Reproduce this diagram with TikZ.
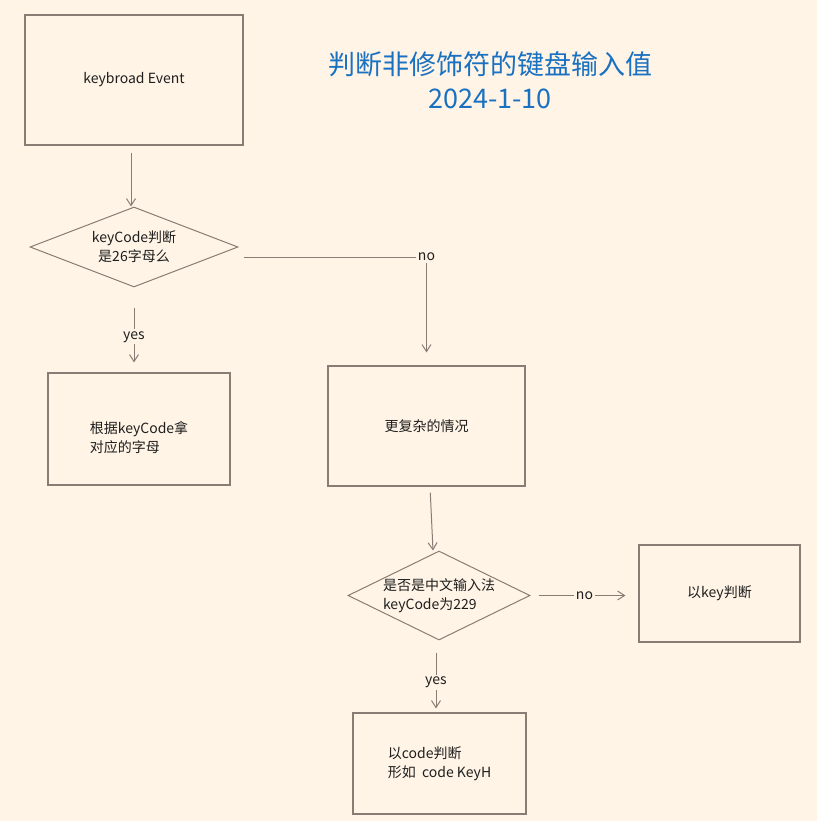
\documentclass[tikz,border=0pt]{standalone}
\usepackage{fontspec}
\setmainfont{Noto Sans CJK SC}
\usetikzlibrary{arrows.meta,shapes.geometric}
\definecolor{bg}{RGB}{255,244,230}
\definecolor{stroke}{RGB}{135,125,116}
\definecolor{ink}{RGB}{30,30,30}
\definecolor{titleblue}{RGB}{25,113,194}
\tikzset{
  x=1pt, y=-1pt,
  every node/.style={font=\fontsize{14}{19}\selectfont, text=ink},
  box/.style={draw=stroke, line width=1.1pt, rectangle, inner sep=0pt, align=left},
  decision/.style={draw=stroke, line width=1pt, diamond, shape aspect=2.6, inner sep=0pt, align=center},
  conn/.style={draw=stroke, line width=1pt, -{Straight Barb[length=7pt,width=9pt]}},
  lbl/.style={fill=bg, inner sep=2pt}
}
\begin{document}
\begin{tikzpicture}
\fill[bg] (0,0) rectangle (817,821);
\useasboundingbox (0,0) rectangle (817,821);

\node[text=titleblue, font=\fontsize{27}{34}\selectfont, align=center] (title) at (490,80) {判断非修饰符的键盘输入值\\2024-1-10};

\node[box, minimum width=218pt, minimum height=130pt] (b1) at (134,80) {keybroad Event};
\node[decision, minimum width=208pt, minimum height=80pt] (d1) at (134,247) {keyCode判断\\是26字母么};
\node[box, minimum width=182pt, minimum height=112pt] (b3) at (139,429) {};
\node[align=left] (b3text) at (139,438) {根据keyCode拿\\对应的字母};
\node[box, minimum width=197pt, minimum height=120pt, align=center] (b2) at (426.5,426) {更复杂的情况};
\node[decision, minimum width=182pt, minimum height=89pt, align=left, inner xsep=-12pt, shape aspect=2.1] (d2) at (439,595.5) {是否是中文输入法\\keyCode为229};
\node[box, minimum width=161pt, minimum height=97pt, align=center] (b4) at (719.5,593.5) {以key判断};
\node[box, minimum width=173pt, minimum height=101pt] (b5) at (439.5,763.5) {以code判断\\形如\ \ code KeyH};

\draw[conn, shorten <=7pt] ([shift={(-3,0)}]b1.south) -- ([shift={(-3,0)}]d1.north);
\draw[conn, shorten >=13pt] ([shift={(5,10)}]d1.east) -| node[lbl] {no} (b2.north);
\draw[conn, shorten <=20pt, shorten >=10pt] (d1.south) -- (d1.south |- b3.north) node[pos=0.58, lbl] {yes};
\draw[conn, shorten <=6pt] ([shift={(3.5,0)}]b2.south) -- ([shift={(-6,0)}]d2.north);
\draw[conn, shorten <=8pt, shorten >=13pt] (d2.east) -- (d2.east -| b4.west) node[midway, lbl] {no};
\draw[conn, shorten <=12pt, shorten >=4pt] ([shift={(-3,0)}]d2.south) -- ([shift={(-3,0)}]d2.south |- b5.north) node[pos=0.58, lbl] {yes};
\end{tikzpicture}
\end{document}
